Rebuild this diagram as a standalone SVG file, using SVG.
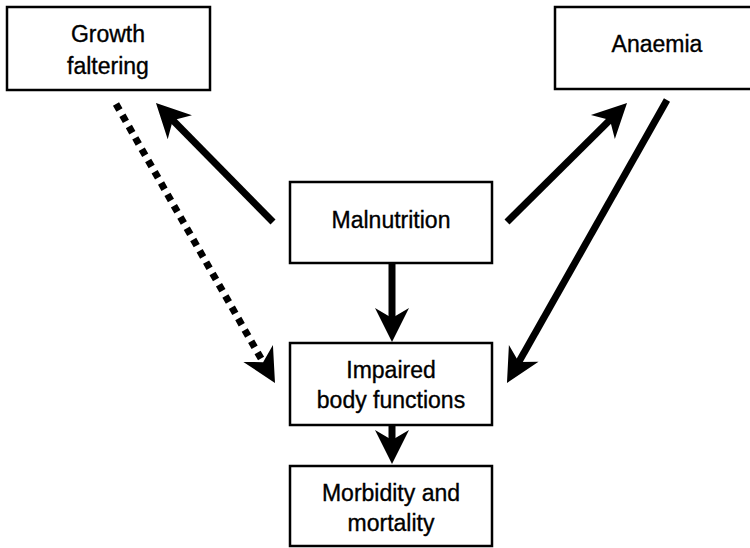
<svg xmlns="http://www.w3.org/2000/svg" width="750" height="548" viewBox="0 0 750 548">
<style>
.box{fill:#fff;stroke:#000;stroke-width:2.5}
.lbl{font-family:"Liberation Sans",Arial,Helvetica,sans-serif;font-size:23px;fill:#000;stroke:#000;stroke-width:0.35;text-anchor:middle}
.arr{stroke:#000;stroke-width:7;fill:none;marker-end:url(#head)}
.dot{stroke:#000;stroke-width:7;fill:none;stroke-dasharray:7 6;marker-end:url(#head)}
</style>
<defs>
<marker id="head" markerUnits="userSpaceOnUse" markerWidth="40" markerHeight="40" viewBox="-2 -20 40 40" refX="12" refY="0" orient="auto">
<path d="M34,0 L0,-17 L10,0 L0,17 Z" fill="#000"/>
</marker>
</defs>
<rect width="750" height="548" fill="#fff"/>
<g id="connectors">
<line class="arr" x1="273" y1="222" x2="171.4" y2="118.7"/>
<line class="arr" x1="507" y1="222" x2="611.4" y2="118.5"/>
<line class="arr" x1="667" y1="100" x2="517.8" y2="363.8"/>
<line class="dot" x1="116" y1="104" x2="264.1" y2="363.9"/>
<line class="arr" x1="392" y1="263" x2="392" y2="320"/>
<line class="arr" x1="392" y1="425" x2="392" y2="442"/>
</g>
<g id="growth">
<rect class="box" x="7" y="7" width="203" height="83"/>
<text class="lbl" x="108" y="42">Growth</text>
<text class="lbl" x="108" y="74">faltering</text>
</g>
<g id="anaemia">
<rect class="box" x="555" y="7" width="205" height="82"/>
<text class="lbl" x="657" y="52">Anaemia</text>
</g>
<g id="malnutrition">
<rect class="box" x="290" y="182" width="202" height="81"/>
<text class="lbl" x="391" y="228">Malnutrition</text>
</g>
<g id="impaired">
<rect class="box" x="290" y="343" width="202" height="82"/>
<text class="lbl" x="391" y="378">Impaired</text>
<text class="lbl" x="391" y="408">body functions</text>
</g>
<g id="morbidity">
<rect class="box" x="290" y="466" width="202" height="80"/>
<text class="lbl" x="391" y="501">Morbidity and</text>
<text class="lbl" x="391" y="531">mortality</text>
</g>
</svg>
